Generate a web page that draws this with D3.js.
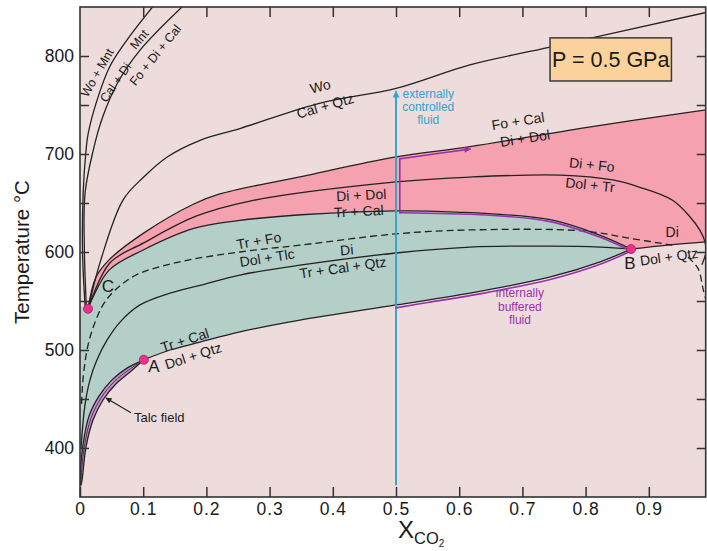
<!DOCTYPE html>
<html>
<head>
<meta charset="utf-8">
<script src="https://cdn.jsdelivr.net/npm/d3@7"></script>
<style>
body { margin: 0; background: #fff; }
svg { display: block; font-family: "Liberation Sans", Arial, Helvetica, sans-serif; }
</style>
</head>
<body>
<div id="chart"></div>
<script>
// reaction curves, each point is [X_CO2, T in °C]
var woCurve = [[0.013,543],[0.033,592],[0.068,653],[0.1,676],[0.138,697],[0.19,714],[0.253,726],[0.38,752],[0.5,767],[0.617,791],[0.744,809],[0.995,845]];
var wo1Curve = [[0.008,545],[0.004,600],[0.005,660],[0.009,700],[0.013,721],[0.027,755],[0.047,789],[0.074,816],[0.116,851]];
var wo2Curve = [[0.01,545],[0.007,600],[0.008,660],[0.021,704],[0.036,738],[0.059,772],[0.095,806],[0.163,851]];
var pinkTop = [[0.013,543],[0.025,574],[0.046,592],[0.1,619],[0.18,649],[0.22,659],[0.35,677],[0.5,697],[0.617,707.5],[0.8,727],[0.995,745.5]];
var diFoCurve = [[0.013,543],[0.0475,589],[0.1,609],[0.1835,636.5],[0.269,652],[0.5,671.5],[0.617,676.5],[0.76,678.5],[0.843,673.5],[0.886,666],[0.937,653],[0.965,636],[0.981,622],[0.989,610],[0.99,599],[0.984,587]];
var tealTop = [[0.013,543],[0.046,581.5],[0.1,602],[0.18,624],[0.25,632],[0.35,638],[0.5,642],[0.585,641],[0.744,633],[0.823,617],[0.872,603]];
var tlcCurve = [[0.0025,445],[0.0036,460],[0.0063,479.5],[0.0127,505],[0.0222,525.5],[0.0364,546],[0.0554,561],[0.0886,576.5],[0.158,590],[0.253,600],[0.348,607],[0.5,618.5],[0.617,622.5],[0.796,621.5],[0.87,614],[0.937,607]];
var tlcMeta = [[0.962,595],[0.978,583],[0.986,562],[0.995,540]];
var diCurve = [[0.0016,400],[0.0079,444],[0.0158,469.5],[0.0269,490],[0.0427,510],[0.0633,528.5],[0.0949,546],[0.1424,558],[0.19,566],[0.253,576.5],[0.348,586.5],[0.5,599],[0.617,605],[0.744,606],[0.823,605],[0.872,603]];
var tealLow = [[0.101,490],[0.1424,500],[0.19,508],[0.253,518.5],[0.348,530.5],[0.5,546],[0.617,558],[0.744,574.5],[0.823,590],[0.872,603]];
var dolQtz = [[0.872,603],[0.93,607],[0.995,610.5]];
var talcUpper = [[0.0015,362],[0.0008,377.5],[0.0047,403],[0.0142,432.5],[0.0301,453],[0.0506,469.5],[0.0744,481.5],[0.101,490]];
var talcLower = [[0.0015,362],[0.0032,367],[0.0095,401],[0.0206,428.5],[0.0364,449],[0.057,465.5],[0.0791,477.5],[0.101,490]];
var talcMid = [[0.0015,362],[0.002,372],[0.0071,402],[0.0174,430.5],[0.0333,451],[0.0538,467.5],[0.0768,479.5],[0.101,490]];

// fluid paths
var blueArrow = [[0.5,362],[0.5,764]];
var purpleLow = [[0.5,543],[0.55,548.5],[0.617,555.5],[0.744,572],[0.823,587.5],[0.872,601]];
var purpleHigh = [[0.872,601],[0.823,615],[0.744,631],[0.66,637],[0.585,639],[0.506,640]];
var purpleUp = [[0.506,640],[0.506,695]];
var purpleTop = [[0.506,695],[0.56,700],[0.617,705]];

var invPoints = [{name:"A", x:0.101, t:490, lx:0.117, lt:483.5},
                 {name:"B", x:0.872, t:603, lx:0.870, lt:589},
                 {name:"C", x:0.0127, t:542, lx:0.0443, lt:565.5}];

var xTicks = [0,0.1,0.2,0.3,0.4,0.5,0.6,0.7,0.8,0.9];
var yTicks = [400,450,500,550,600,650,700,750,800];

var labels = [
  {text:"Wo", x:0.38, t:769, r:-15},
  {text:"Cal + Qtz", x:0.388, t:749, r:-16},
  {text:"Fo + Cal", x:0.693, t:733.5, r:-9},
  {text:"Di + Dol", x:0.704, t:716, r:-9},
  {text:"Di + Fo", x:0.81, t:689, r:6},
  {text:"Dol + Tr", x:0.807, t:668.5, r:6},
  {text:"Di + Dol", x:0.445, t:658, r:-3},
  {text:"Tr + Cal", x:0.441, t:641.5, r:-3},
  {text:"Tr + Fo", x:0.283, t:611.5, r:-10},
  {text:"Dol + Tlc", x:0.296, t:594, r:-9},
  {text:"Di", x:0.422, t:602, r:-5},
  {text:"Tr + Cal + Qtz", x:0.416, t:584, r:-8},
  {text:"Tr + Cal", x:0.166, t:510, r:-18},
  {text:"Dol + Qtz", x:0.179, t:494, r:-18},
  {text:"Di", x:0.937, t:620.5, r:0},
  {text:"Dol + Qtz", x:0.932, t:595, r:-8},
  {text:"Wo + Mnt", x:0.027, t:783, r:-60, size:12.5},
  {text:"Cal + Di", x:0.056, t:773, r:-55, size:12.5},
  {text:"Mnt", x:0.0935, t:817, r:-50, size:12.5},
  {text:"Fo + Di + Cal", x:0.119, t:801, r:-51, size:12.5}
];
var extLines = ["externally", "controlled", "fluid"];
var intLines = ["internally", "buffered", "fluid"];

var width = 707, height = 551;
var x = d3.scaleLinear().domain([0, 0.99]).range([80, 705.7]);
var y = d3.scaleLinear().domain([350, 850]).range([497, 7]);

var svg = d3.select("#chart").append("svg")
    .attr("width", width)
    .attr("height", height);

var defs = svg.append("defs");
defs.append("clipPath").attr("id", "plotclip")
    .append("rect")
    .attr("x", x(0)).attr("y", y(850))
    .attr("width", x(0.99) - x(0)).attr("height", y(350) - y(850));

function marker(id, color, w, h) {
    defs.append("marker")
        .attr("id", id)
        .attr("viewBox", "0 0 10 10")
        .attr("refX", 9).attr("refY", 5)
        .attr("markerUnits", "userSpaceOnUse")
        .attr("markerWidth", w).attr("markerHeight", h)
        .attr("orient", "auto")
        .append("path")
        .attr("d", "M0,0 L10,5 L0,10 Z")
        .attr("fill", color);
}
marker("arrBlue", "#3aa5cc", 10, 7);
marker("arrPurple", "#9b2fae", 10, 6);
marker("arrBlack", "#222", 9, 6);

var line = d3.line()
    .x(function(d) { return x(d[0]); })
    .y(function(d) { return y(d[1]); })
    .curve(d3.curveCatmullRom.alpha(0.5));
var straight = d3.line()
    .x(function(d) { return x(d[0]); })
    .y(function(d) { return y(d[1]); });

function rev(a) { return a.slice().reverse(); }
function region(segs) {
    return segs.map(function(s, i) {
        var d = s.length > 2 ? line(s) : straight(s);
        return i ? d.replace(/^M/, "L") : d;
    }).join("") + "Z";
}

var plot = svg.append("g").attr("clip-path", "url(#plotclip)");

plot.append("rect")
    .attr("x", x(0)).attr("y", y(850))
    .attr("width", x(0.99) - x(0)).attr("height", y(350) - y(850))
    .attr("fill", "#eedcdc");

// pink field
plot.append("path")
    .attr("d", region([pinkTop, [[0.995,745.5],[0.995,610.5]], rev(dolQtz), rev(tealTop)]))
    .attr("fill", "#f5a1b0");

// teal field
plot.append("path")
    .attr("d", region([tealTop, rev(tealLow), rev(talcUpper), [[0.0015,362],[0,362],[0,543],[0.013,543]]]))
    .attr("fill", "#b4cec8");

// talc field
plot.append("path")
    .attr("d", region([talcUpper, rev(talcLower)]))
    .attr("fill", "#c493c6");

var solids = [woCurve, wo1Curve, wo2Curve, pinkTop, diFoCurve, tealTop, diCurve, tealLow, dolQtz, talcUpper, talcLower];
plot.selectAll(".rx")
    .data(solids)
    .enter().append("path")
    .attr("class", "rx")
    .attr("d", line)
    .attr("fill", "none")
    .attr("stroke", "#222")
    .attr("stroke-width", 1.3);

plot.append("path")
    .attr("d", line(talcMid))
    .attr("fill", "none")
    .attr("stroke", "#5a2a5e")
    .attr("stroke-width", 1);

plot.selectAll(".dash")
    .data([tlcCurve, tlcMeta])
    .enter().append("path")
    .attr("class", "dash")
    .attr("d", line)
    .attr("fill", "none")
    .attr("stroke", "#222")
    .attr("stroke-width", 1.3)
    .attr("stroke-dasharray", "7,4");

// fluid paths
plot.append("path")
    .attr("d", straight(blueArrow))
    .attr("stroke", "#3aa5cc")
    .attr("stroke-width", 2)
    .attr("marker-end", "url(#arrBlue)");

[purpleLow, purpleHigh, purpleUp, purpleTop].forEach(function(p, i) {
    plot.append("path")
        .attr("d", p.length > 2 ? line(p) : straight(p))
        .attr("fill", "none")
        .attr("stroke", "#9b2fae")
        .attr("stroke-width", 1.6)
        .attr("stroke-linecap", "square")
        .attr("marker-end", i == 3 ? "url(#arrPurple)" : null);
});

// invariant points
plot.selectAll(".inv")
    .data(invPoints)
    .enter().append("circle")
    .attr("class", "inv")
    .attr("cx", function(d) { return x(d.x); })
    .attr("cy", function(d) { return y(d.t); })
    .attr("r", 4.5)
    .attr("fill", "#e8338c")
    .attr("stroke", "#a81a60")
    .attr("stroke-width", 0.8);

svg.selectAll(".invlab")
    .data(invPoints)
    .enter().append("text")
    .attr("class", "invlab")
    .attr("x", function(d) { return x(d.lx); })
    .attr("y", function(d) { return y(d.lt); })
    .attr("dy", "0.35em")
    .attr("text-anchor", "middle")
    .attr("font-size", 17)
    .attr("fill", "#1a1a1a")
    .text(function(d) { return d.name; });

// field labels
svg.selectAll(".lab")
    .data(labels)
    .enter().append("text")
    .attr("class", "lab")
    .attr("transform", function(d) { return "translate(" + x(d.x) + "," + y(d.t) + ") rotate(" + d.r + ")"; })
    .attr("dy", "0.35em")
    .attr("text-anchor", "middle")
    .attr("font-size", function(d) { return d.size || 14; })
    .attr("fill", "#1a1a1a")
    .text(function(d) { return d.text; });

svg.selectAll(".ext")
    .data(extLines)
    .enter().append("text")
    .attr("x", x(0.551))
    .attr("y", function(d, i) { return y(761) + i * 13; })
    .attr("dy", "0.35em")
    .attr("text-anchor", "middle")
    .attr("font-size", 12)
    .attr("fill", "#2ea3cf")
    .text(function(d) { return d; });

svg.selectAll(".int")
    .data(intLines)
    .enter().append("text")
    .attr("x", x(0.696))
    .attr("y", function(d, i) { return y(558) + i * 13.5; })
    .attr("dy", "0.35em")
    .attr("text-anchor", "middle")
    .attr("font-size", 12)
    .attr("fill", "#9b2fae")
    .text(function(d) { return d; });

// talc field callout
svg.append("path")
    .attr("d", straight([[0.0807,436],[0.0411,451]]))
    .attr("stroke", "#222")
    .attr("stroke-width", 1.2)
    .attr("marker-end", "url(#arrBlack)");
svg.append("text")
    .attr("x", x(0.0854))
    .attr("y", y(431.5))
    .attr("dy", "0.35em")
    .attr("font-size", 13)
    .attr("fill", "#1a1a1a")
    .text("Talc field");

// pressure box
var box = svg.append("g");
box.append("rect")
    .attr("x", x(0.7437)).attr("y", y(818.5))
    .attr("width", x(0.9358) - x(0.7437)).attr("height", y(774.5) - y(818.5))
    .attr("fill", "#fbd29c")
    .attr("stroke", "#3a3a3a")
    .attr("stroke-width", 1.5);
box.append("text")
    .attr("x", (x(0.7437) + x(0.9358)) / 2)
    .attr("y", y(796.5))
    .attr("dy", "0.35em")
    .attr("text-anchor", "middle")
    .attr("font-size", 21.5)
    .attr("fill", "#1a1a1a")
    .text("P = 0.5 GPa");

// axes
var axColor = "#333";
var gx = svg.append("g")
    .attr("transform", "translate(0," + y(350) + ")")
    .call(d3.axisBottom(x).tickValues(xTicks).tickSizeInner(-10).tickSizeOuter(0).tickPadding(6)
        .tickFormat(function(d) { return d === 0 ? "0" : d3.format(".1f")(d); }));
var gxt = svg.append("g")
    .attr("transform", "translate(0," + y(850) + ")")
    .call(d3.axisTop(x).tickValues(xTicks.slice(1)).tickSizeInner(-10).tickSizeOuter(0).tickFormat(""));
var gy = svg.append("g")
    .attr("transform", "translate(" + x(0) + ",0)")
    .call(d3.axisLeft(y).tickValues(yTicks).tickSizeInner(-9).tickSizeOuter(0).tickPadding(6)
        .tickFormat(function(d) { return d % 100 === 0 ? d : ""; }));
var gyr = svg.append("g")
    .attr("transform", "translate(" + x(0.99) + ",0)")
    .call(d3.axisRight(y).tickValues(yTicks).tickSizeInner(-9).tickSizeOuter(0).tickFormat(""));

[gx, gxt, gy, gyr].forEach(function(g) {
    g.select(".domain").remove();
    g.selectAll(".tick line").attr("stroke", axColor).attr("stroke-width", 1.5);
    g.selectAll(".tick text")
        .attr("font-family", "\"Liberation Sans\", Arial, sans-serif")
        .attr("font-size", 17.5)
        .attr("fill", "#1a1a1a");
});
gx.selectAll(".tick text").attr("letter-spacing", "1px");

svg.append("rect")
    .attr("x", x(0)).attr("y", y(850))
    .attr("width", x(0.99) - x(0)).attr("height", y(350) - y(850))
    .attr("fill", "none")
    .attr("stroke", axColor)
    .attr("stroke-width", 1.6);

// axis titles
svg.append("text")
    .attr("transform", "translate(29," + y(600) + ") rotate(-90)")
    .attr("text-anchor", "middle")
    .attr("font-size", 20.5)
    .attr("fill", "#1a1a1a")
    .text("Temperature °C");

var xt = svg.append("text")
    .attr("x", x(0.5) + 2)
    .attr("y", 538)
    .attr("font-size", 24)
    .attr("fill", "#1a1a1a");
xt.append("tspan").text("X");
xt.append("tspan").attr("font-size", 16.5).attr("dy", 6).text("CO");
xt.append("tspan").attr("font-size", 10).attr("dy", 3).text("2");
</script>
</body>
</html>
